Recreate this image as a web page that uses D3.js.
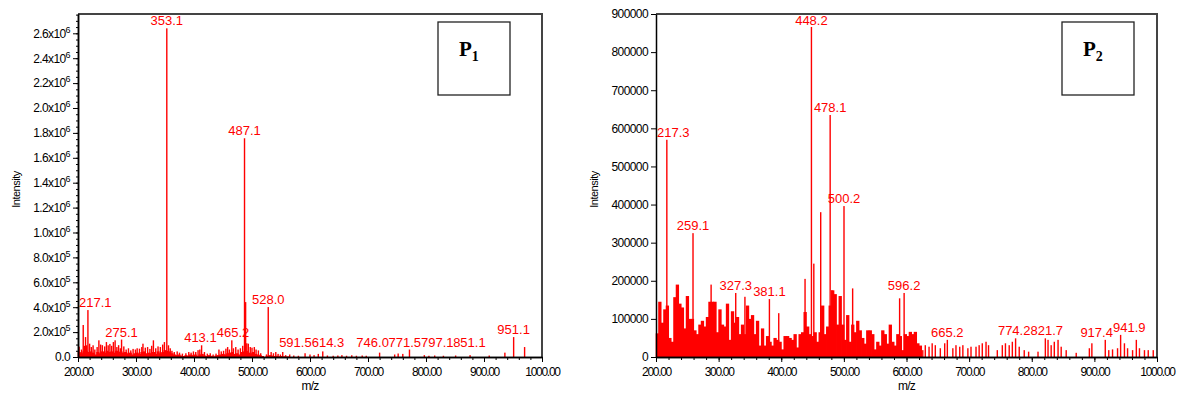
<!DOCTYPE html>
<html>
<head>
<meta charset="utf-8">
<script src="https://cdn.jsdelivr.net/npm/d3@7"></script>
<style>
  body { margin: 0; background: #fff; }
  svg text { font-family: "Liberation Sans", Arial, sans-serif; }
</style>
</head>
<body>
<div class="canvas"></div>
<script>
// ---------- P1 spectrum (intensities in thousands) ----------
const p1BaseStart = 200;
const p1BaseStep = 4;
const p1Base = [
  40, 30, 45, 50, 40, 45, 35, 20, 40, 30,
  45, 35, 50, 40, 45, 35, 50, 40, 45, 35,
  40, 30, 35, 20, 30, 35, 25, 40, 45, 30,
  35, 30, 40, 25, 45, 30, 40, 55, 50, 45,
  30, 20, 15, 20, 12, 8, 15, 10, 20, 15,
  20, 10, 20, 25, 12, 8, 15, 10, 5, 12,
  15, 20, 25, 20, 30, 35, 40, 25, 30, 20,
  40, 45, 50, 35, 30, 40, 25, 20, 15, 8,
  0, 10, 15, 12, 8, 10, 5, 8, 5, 3, 5
];
const p1PeakMz = [
  202, 206, 209, 211, 213, 215, 217.1, 220, 223, 226, 229, 233, 236, 239, 242, 246,
  249, 252, 255, 258, 261, 264, 267, 270, 273, 275.1, 279, 283, 287, 291, 295, 299,
  302, 306, 310, 312, 316, 320, 324, 327, 330, 334, 338, 342, 346, 349, 353.1, 356,
  359, 362, 366, 371, 375, 380, 386, 391, 395, 399, 403, 407, 410, 413.1, 418, 423,
  428, 433, 438, 443, 447, 451, 455, 458, 461, 465.2, 468, 472, 476, 480, 484, 487.1,
  489, 491, 493.6, 497, 500, 504, 507, 511, 515, 525, 528.0, 533, 537, 541, 545, 549,
  553, 558, 565, 572, 580, 591.5, 600, 607, 614.3, 622, 630, 640, 648, 655, 663, 672,
  680, 690, 697, 720, 746.0, 752, 760, 771.5, 797.1, 805, 815, 830, 851.1, 876, 909,
  936, 951.1, 970
];
const p1PeakInt = [
  83, 60, 257, 90, 160, 94, 377, 107, 80, 94, 60, 80, 134, 100, 95, 85,
  120, 94, 105, 90, 120, 134, 80, 95, 70, 140, 85, 60, 70, 53, 65, 60,
  70, 67, 80, 107, 75, 80, 65, 90, 134, 70, 85, 80, 100, 120, 2640, 94,
  70, 50, 40, 45, 35, 27, 30, 40, 35, 45, 40, 55, 60, 94, 40, 27,
  30, 20, 27, 60, 45, 50, 67, 80, 60, 134, 70, 80, 60, 70, 90, 1757,
  441, 110, 107, 80, 75, 80, 60, 53, 30, 21, 401, 40, 30, 40, 25, 20,
  40, 15, 20, 12, 10, 30, 20, 15, 25, 45, 12, 10, 12, 15, 10, 14,
  10, 12, 10, 35, 20, 28, 25, 60, 15, 10, 12, 10, 12, 15, 12,
  35, 160, 80
];
const p1Labels = ["353.1", "487.1", "217.1", "275.1", "413.1", "465.2", "528.0",
  "591.5", "614.3", "746.0", "771.5", "797.1", "851.1", "951.1"];
const p1YTicks = [0, 200000, 400000, 600000, 800000, 1000000, 1200000, 1400000,
  1600000, 1800000, 2000000, 2200000, 2400000, 2600000];

// ---------- P2 spectrum (intensities in thousands) ----------
const p2BaseStart = 200;
const p2BaseStep = 4;
const p2Base = [
  62, 145, 90, 125, 135, 50, 40, 157, 190, 140,
  130, 75, 160, 100, 100, 70, 60, 85, 95, 80,
  105, 145, 145, 145, 65, 125, 85, 80, 140, 45,
  120, 90, 105, 60, 85, 60, 135, 100, 110, 60,
  95, 30, 75, 30, 55, 40, 30, 50, 45, 40,
  20, 55, 55, 50, 45, 60, 25, 60, 65, 118,
  80, 60, 55, 65, 40, 65, 135, 60, 80, 135,
  175, 165, 85, 160, 85, 45, 110, 40, 85, 65,
  95, 70, 50, 35, 70, 70, 60, 20, 40, 30,
  70, 60, 35, 85, 40, 30, 60, 55, 18, 60,
  55, 66, 60, 66, 36, 30
];
const p2PeakMz = [
  217.3, 259.1, 288, 327.3, 342, 381.1, 396, 438, 448.2, 452, 463, 478.1, 481,
  500.2, 514, 589, 596.2,
  626, 630, 636, 641, 646, 654, 661, 665.2, 674, 679, 685, 690, 698, 703, 711,
  716, 721, 727, 731, 745, 753, 758, 764, 769, 774.2, 780, 788, 795, 810, 821.7,
  826, 831, 836, 842, 847, 855, 871, 892, 896, 917.4, 923, 929, 937, 941.9, 948,
  953, 961, 967, 972, 980, 986, 994
];
const p2PeakInt = [
  570, 325, 190, 168, 158, 152, 115, 205, 866, 245, 380, 635, 175,
  396, 180, 154, 168,
  18, 31, 27, 36, 31, 23, 36, 45, 23, 31, 27, 31, 23, 27, 27,
  31, 36, 40, 31, 18, 31, 36, 31, 40, 49, 27, 18, 14, 14, 49,
  45, 31, 40, 45, 27, 18, 11, 23, 36, 45, 18, 20, 23, 58, 36,
  23, 18, 45, 23, 18, 18, 18
];
const p2Labels = ["448.2", "478.1", "217.3", "259.1", "500.2", "327.3", "381.1",
  "596.2", "665.2", "774.2", "821.7", "917.4", "941.9"];
const p2YTicks = [0, 100000, 200000, 300000, 400000, 500000, 600000, 700000,
  800000, 900000];

const xTicks = [200, 300, 400, 500, 600, 700, 800, 900, 1000];

const red = "#ff0000";
const svg = d3.select(".canvas").append("svg")
  .attr("width", 1177)
  .attr("height", 395);

function drawPanel(p) {
  const g = svg.append("g");
  if (p.clipW) {
    svg.append("clipPath").attr("id", p.id + "-clip")
      .append("rect").attr("x", 0).attr("y", 0).attr("width", p.clipW).attr("height", 395);
    g.attr("clip-path", `url(#${p.id}-clip)`);
  }

  const x = d3.scaleLinear().domain([200, 1000]).range([p.left, p.right]);
  const y = d3.scaleLinear().domain([0, p.yMax]).range([p.bottom, p.top]);

  // frame (top + right)
  g.append("path")
    .attr("d", `M${p.left},${p.top}H${p.right}V${p.bottom}`)
    .attr("fill", "none")
    .attr("stroke", "#444")
    .attr("stroke-width", 2);

  // baseline envelope bars
  g.append("g").selectAll("rect")
    .data(p.base)
    .join("rect")
    .attr("x", (d, i) => x(p.baseStart + i * p.baseStep) - 0.3)
    .attr("width", x(200 + p.baseStep) - x(200) + 0.8)
    .attr("y", d => y(d * 1000))
    .attr("height", d => p.bottom - y(d * 1000))
    .attr("fill", red);

  // peaks
  g.append("g").selectAll("rect")
    .data(p.peakMz)
    .join("rect")
    .attr("x", d => x(d) - 0.7)
    .attr("width", 1.4)
    .attr("y", (d, i) => y(p.peakInt[i] * 1000))
    .attr("height", (d, i) => p.bottom - y(p.peakInt[i] * 1000))
    .attr("fill", red);

  // axes
  const xAxis = g.append("g").attr("transform", `translate(0,${p.bottom})`)
    .call(d3.axisBottom(x).tickValues(xTicks).tickFormat(d3.format(".2f"))
      .tickSize(5).tickSizeOuter(0));
  xAxis.selectAll("text")
    .attr("font-size", 12)
    .attr("letter-spacing", -1.3)
    .attr("fill", "#000")
    .attr("dy", "0.9em");
  g.append("g").attr("transform", `translate(0,${p.bottom})`)
    .call(d3.axisBottom(x).tickValues(d3.range(200, 1001, 20)).tickFormat("")
      .tickSize(3).tickSizeOuter(0));

  const yAxis = g.append("g").attr("transform", `translate(${p.left},0)`)
    .call(d3.axisLeft(y).tickValues(p.yTicks).tickSize(5).tickSizeOuter(0)
      .tickFormat(d => String(d)));
  yAxis.selectAll("text")
    .attr("font-size", 12)
    .attr("letter-spacing", -0.6)
    .attr("fill", "#000");
  if (p.minorY) {
    g.append("g").attr("transform", `translate(${p.left},0)`)
      .call(d3.axisLeft(y).tickValues(d3.range(0, p.yMax, p.minorY)).tickFormat("")
        .tickSize(2).tickSizeOuter(0));
  }
  if (p.sciY) {
    yAxis.selectAll(".tick text").each(function (d) {
      const t = d3.select(this).text(null);
      if (d === 0) { t.text("0.0"); return; }
      const e = d >= 1e6 ? 6 : 5;
      t.append("tspan").text((d / Math.pow(10, e)).toFixed(1) + "x10");
      t.append("tspan").attr("font-size", 9).attr("dy", -5).text(e);
    });
  }
  g.selectAll(".domain").attr("stroke", "#000").attr("stroke-width", 1.5);

  // axis titles
  g.append("text")
    .attr("transform", `translate(${p.left - 58},${(p.top + p.bottom) / 2 + 4}) rotate(-90)`)
    .attr("text-anchor", "middle")
    .attr("font-size", 11)
    .attr("letter-spacing", -0.5)
    .attr("fill", "#000")
    .text("Intensity");
  g.append("text")
    .attr("x", (p.left + p.right) / 2 + 0)
    .attr("y", p.bottom + 33)
    .attr("text-anchor", "middle")
    .attr("font-size", 12)
    .attr("letter-spacing", -0.8)
    .attr("fill", "#000")
    .text("m/z");

  // peak labels
  const items = [];
  g.append("g").selectAll("text")
    .data(p.labels)
    .join("text")
    .attr("fill", red)
    .attr("font-size", 13)
    .attr("text-anchor", "middle")
    .text(d => d)
    .each(function (d) {
      const mz = +d;
      const v = p.peakInt[p.peakMz.indexOf(mz)] * 1000;
      const w = this.getComputedTextLength();
      const by = Math.max(p.top + 11, Math.min(y(v) - 3, p.bottom - 10));
      items.push({ node: this, cx: x(mz), by, w });
    });
  // push apart labels that sit on the same row
  for (let k = 0; k < 40; k++) {
    items.forEach(a => items.forEach(b => {
      if (a === b || a.cx > b.cx || Math.abs(a.by - b.by) > 10) return;
      const over = (a.w + b.w) / 2 - (b.cx - a.cx);
      if (over > 0.5) { a.cx -= over / 2; b.cx += over / 2; }
    }));
  }
  items.forEach(d => {
    d.cx = Math.max(p.left + d.w / 2 + 1, Math.min(p.right - d.w / 2 - 1, d.cx));
    d3.select(d.node).attr("x", d.cx).attr("y", d.by);
  });

  // sample box
  const box = g.append("g");
  box.append("rect")
    .attr("x", p.boxX).attr("y", 22).attr("width", 72).attr("height", 73)
    .attr("fill", "#fff").attr("stroke", "#222").attr("stroke-width", 1.3);
  const bt = box.append("text")
    .attr("x", p.boxX + 21).attr("y", 56)
    .style("font-family", "'Liberation Serif', 'Times New Roman', serif")
    .attr("font-weight", "bold")
    .attr("font-size", 21)
    .attr("fill", "#000");
  bt.append("tspan").text("P");
  bt.append("tspan").attr("font-size", 14).attr("dy", 5).text(p.sub);
}

drawPanel({
  id: "p1", left: 78, right: 542, top: 14, bottom: 357, clipW: 561,
  yMax: 2755000, yTicks: p1YTicks, minorY: 50000, sciY: true,
  base: p1Base, baseStart: p1BaseStart, baseStep: p1BaseStep,
  peakMz: p1PeakMz, peakInt: p1PeakInt, labels: p1Labels,
  boxX: 438, sub: "1"
});

drawPanel({
  id: "p2", left: 656, right: 1157, top: 14, bottom: 357,
  yMax: 900000, yTicks: p2YTicks, minorY: 0, sciY: false,
  base: p2Base, baseStart: p2BaseStart, baseStep: p2BaseStep,
  peakMz: p2PeakMz, peakInt: p2PeakInt, labels: p2Labels,
  boxX: 1062, sub: "2"
});
</script>
</body>
</html>
